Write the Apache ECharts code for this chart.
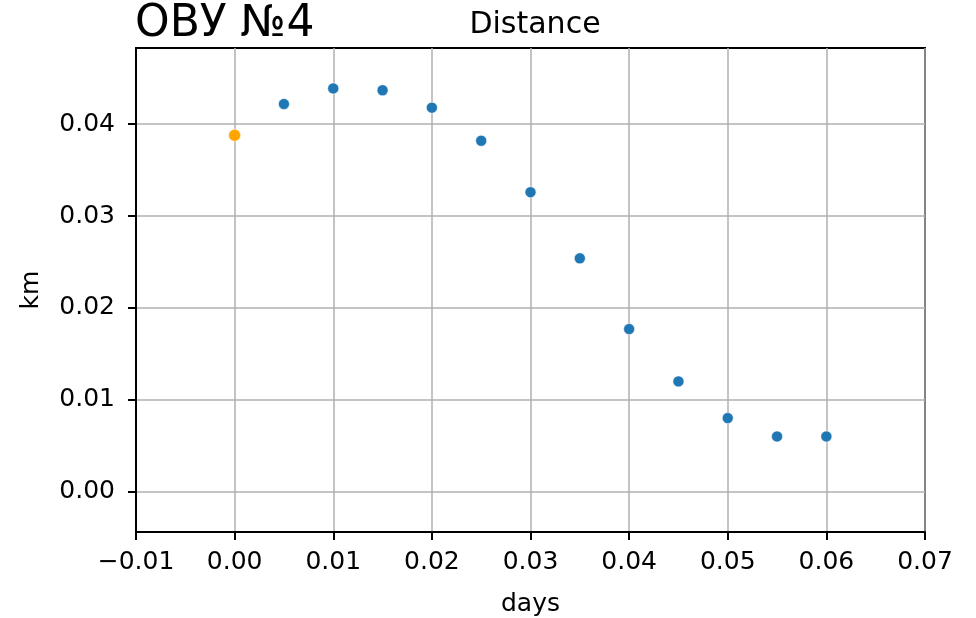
<!DOCTYPE html>
<html>
<head>
<meta charset="utf-8">
<script src="https://cdn.jsdelivr.net/npm/echarts@6/dist/echarts.min.js"></script>
<style>
  html, body { margin: 0; padding: 0; background: #fff; }
  #chart { width: 976px; height: 618px; }
</style>
</head>
<body>
<div id="chart"></div>
<script>
// measured points (days, km)
const days = [0.005, 0.01, 0.015, 0.02, 0.025, 0.03, 0.035, 0.04, 0.045, 0.05, 0.055, 0.06];
const km = [0.0422, 0.0439, 0.0437, 0.0418, 0.0382, 0.0326, 0.0254, 0.0177, 0.0120, 0.0080, 0.0060, 0.0060];
const startDay = [0.0];
const startKm = [0.0388];
const yTicks = [0.00, 0.01, 0.02, 0.03, 0.04];

const font = 'DejaVu Sans';
const fmt = (v) => (v < 0 ? '\u2212' : '') + Math.abs(v).toFixed(2);

var myChart = echarts.init(document.getElementById('chart'));

myChart.setOption({
  animation: false,
  textStyle: {fontFamily: font, color: '#000'},
  title: [{
    text: 'ОВУ №4',
    left: 130,
    top: -2,
    textStyle: {fontFamily: font, fontSize: 44, fontWeight: 'normal', color: '#000'}
  }, {
    text: 'Distance',
    left: 530,
    textAlign: 'center',
    top: 5,
    textStyle: {fontFamily: font, fontSize: 30, fontWeight: 'normal', color: '#000'}
  }],
  grid: {
    left: 136,
    right: 51,
    top: 48,
    bottom: 86,
    outerBoundsMode: 'none',
    containLabel: false,
    show: true,
    borderColor: '#000',
    borderWidth: 2
  },
  xAxis: {
    type: 'value',
    min: -0.01,
    max: 0.07,
    interval: 0.01,
    name: 'days',
    nameLocation: 'middle',
    nameGap: 60,
    nameTextStyle: {fontFamily: font, fontSize: 25, color: '#000'},
    axisLine: {show: true, onZero: false, lineStyle: {color: '#000', width: 2}},
    axisTick: {show: true, inside: false, length: 8, lineStyle: {color: '#000', width: 2}},
    axisLabel: {fontFamily: font, fontSize: 25, color: '#000', margin: 18, formatter: fmt},
    splitLine: {show: true, lineStyle: {color: '#b0b0b0', width: 1.5}}
  },
  yAxis: {
    type: 'value',
    min: -0.0044,
    max: 0.0483,
    name: 'km',
    nameLocation: 'middle',
    nameGap: 92,
    nameTextStyle: {fontFamily: font, fontSize: 25, color: '#000'},
    axisLine: {show: true, onZero: false, lineStyle: {color: '#000', width: 2}},
    axisTick: {show: true, inside: false, length: 8, customValues: yTicks, lineStyle: {color: '#000', width: 2}},
    axisLabel: {fontFamily: font, fontSize: 25, color: '#000', margin: 21, customValues: yTicks, formatter: fmt},
    splitLine: {show: true, lineStyle: {color: '#b0b0b0', width: 1.5}}
  },
  series: [{
    type: 'scatter',
    data: days.map((d, i) => [d, km[i]]),
    symbolSize: 11,
    itemStyle: {color: '#1f77b4', borderColor: '#fff', borderWidth: 0.5, opacity: 1}
  }, {
    type: 'scatter',
    data: startDay.map((d, i) => [d, startKm[i]]),
    symbolSize: 12,
    itemStyle: {color: '#ffa500', borderColor: '#fff', borderWidth: 0.5, opacity: 1}
  }]
});
</script>
</body>
</html>
